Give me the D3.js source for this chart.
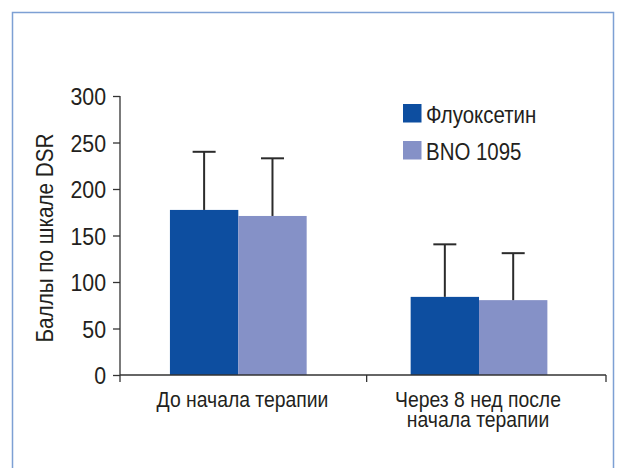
<!DOCTYPE html>
<html><head><meta charset="utf-8">
<script src="https://cdn.jsdelivr.net/npm/d3@7"></script>
<style>
html,body{margin:0;padding:0;background:#fff;}
text{font-family:"Liberation Sans",Arial,sans-serif;fill:#231f20;}
</style></head>
<body><svg id="c" width="617" height="468"></svg>
<script>
const categories = ["До начала терапии", "Через 8 нед после\nначала терапии"];
const seriesNames = ["Флуоксетин", "BNO 1095"];
const fluoxetineValues = [177.5, 84];
const bnoValues = [171, 80.5];
const fluoxetineErr = [240, 140.5];
const bnoErr = [233, 131];
const yTicks = [0, 50, 100, 150, 200, 250, 300];
const colors = ["#0d4ea0", "#8591c7"];
const SX = 0.87;

const svg = d3.select("#c");
svg.append("path").attr("d","M12.5,468 V12.5 H613.5 V468")
  .attr("fill","none").attr("stroke","#7da0d4").attr("stroke-width",1.5);

const x0 = 120, x1 = 606, yTop = 96, yBot = 375;
const y = d3.scaleLinear().domain([0,300]).range([yBot, yTop]);
const x = d3.scaleBand().domain(categories).range([x0, x1]).paddingInner(0.432).paddingOuter(0.2255).align(0.46);
const xs = d3.scaleBand().domain(seriesNames).range([0, x.bandwidth()]);

const values = [fluoxetineValues, bnoValues];
const errs = [fluoxetineErr, bnoErr];

const g = svg.append("g");
seriesNames.forEach((s, si) => {
  categories.forEach((c, ci) => {
    const bx = x(c) + xs(s);
    g.append("rect").attr("x", bx).attr("y", y(values[si][ci]))
      .attr("width", xs.bandwidth()).attr("height", y(0) - y(values[si][ci]))
      .attr("fill", colors[si]);
    const cx = bx + xs.bandwidth()/2;
    g.append("line").attr("x1",cx).attr("x2",cx).attr("y1",y(values[si][ci])).attr("y2",y(errs[si][ci]))
      .attr("stroke","#2b2b2b").attr("stroke-width",2);
    g.append("line").attr("x1",cx-11.5).attr("x2",cx+11.5).attr("y1",y(errs[si][ci])).attr("y2",y(errs[si][ci]))
      .attr("stroke","#2b2b2b").attr("stroke-width",2);
  });
});

// y axis
const ya = svg.append("g").attr("transform",`translate(${x0},0)`)
  .call(d3.axisLeft(y).tickValues(yTicks).tickSize(7).tickPadding(7));
ya.select(".domain").attr("d",`M0,${yTop}V${yBot+7}`).attr("stroke","#333").attr("stroke-width",1.3);
ya.selectAll(".tick line").attr("stroke","#333").attr("stroke-width",1.3);
ya.selectAll(".tick text").attr("font-size",24.5).attr("fill","#231f20").attr("x",0).attr("dy","0.36em")
  .attr("transform",`translate(-14,0) scale(${SX},1)`)
  .style("font-family",'"Liberation Sans",Arial,sans-serif');

// x axis baseline and ticks at band boundaries
svg.append("line").attr("x1",x0).attr("x2",x1).attr("y1",yBot).attr("y2",yBot).attr("stroke","#333").attr("stroke-width",1.3);
const boundaries = [x1, (x(categories[0]) + x.bandwidth() + x(categories[1])) / 2 + 8];
boundaries.forEach(b => svg.append("line").attr("x1",b).attr("x2",b).attr("y1",yBot).attr("y2",yBot+7).attr("stroke","#333").attr("stroke-width",1.3));

// x labels
const labelCx = [242.5, 478];
categories.forEach((c, ci) => {
  c.split("\n").forEach((l, li) => {
    svg.append("text").attr("text-anchor","middle").attr("font-size",22)
      .attr("transform",`translate(${labelCx[ci]},${406.5 + li*20}) scale(${SX + 0.01},1)`).text(l);
  });
});

// y title
svg.append("text").attr("transform","translate(53,238) rotate(-90) scale(0.9,1)").attr("text-anchor","middle")
  .attr("font-size",23).text("Баллы по шкале DSR");

// legend
seriesNames.forEach((s, si) => {
  const ly = 104 + si*37;
  svg.append("rect").attr("x",403).attr("y",ly).attr("width",18.5).attr("height",18.5).attr("fill",colors[si]);
  svg.append("text").attr("font-size",23.5)
    .attr("transform",`translate(426,${ly+18.5}) scale(${SX},1)`).text(s);
});
</script></body></html>
